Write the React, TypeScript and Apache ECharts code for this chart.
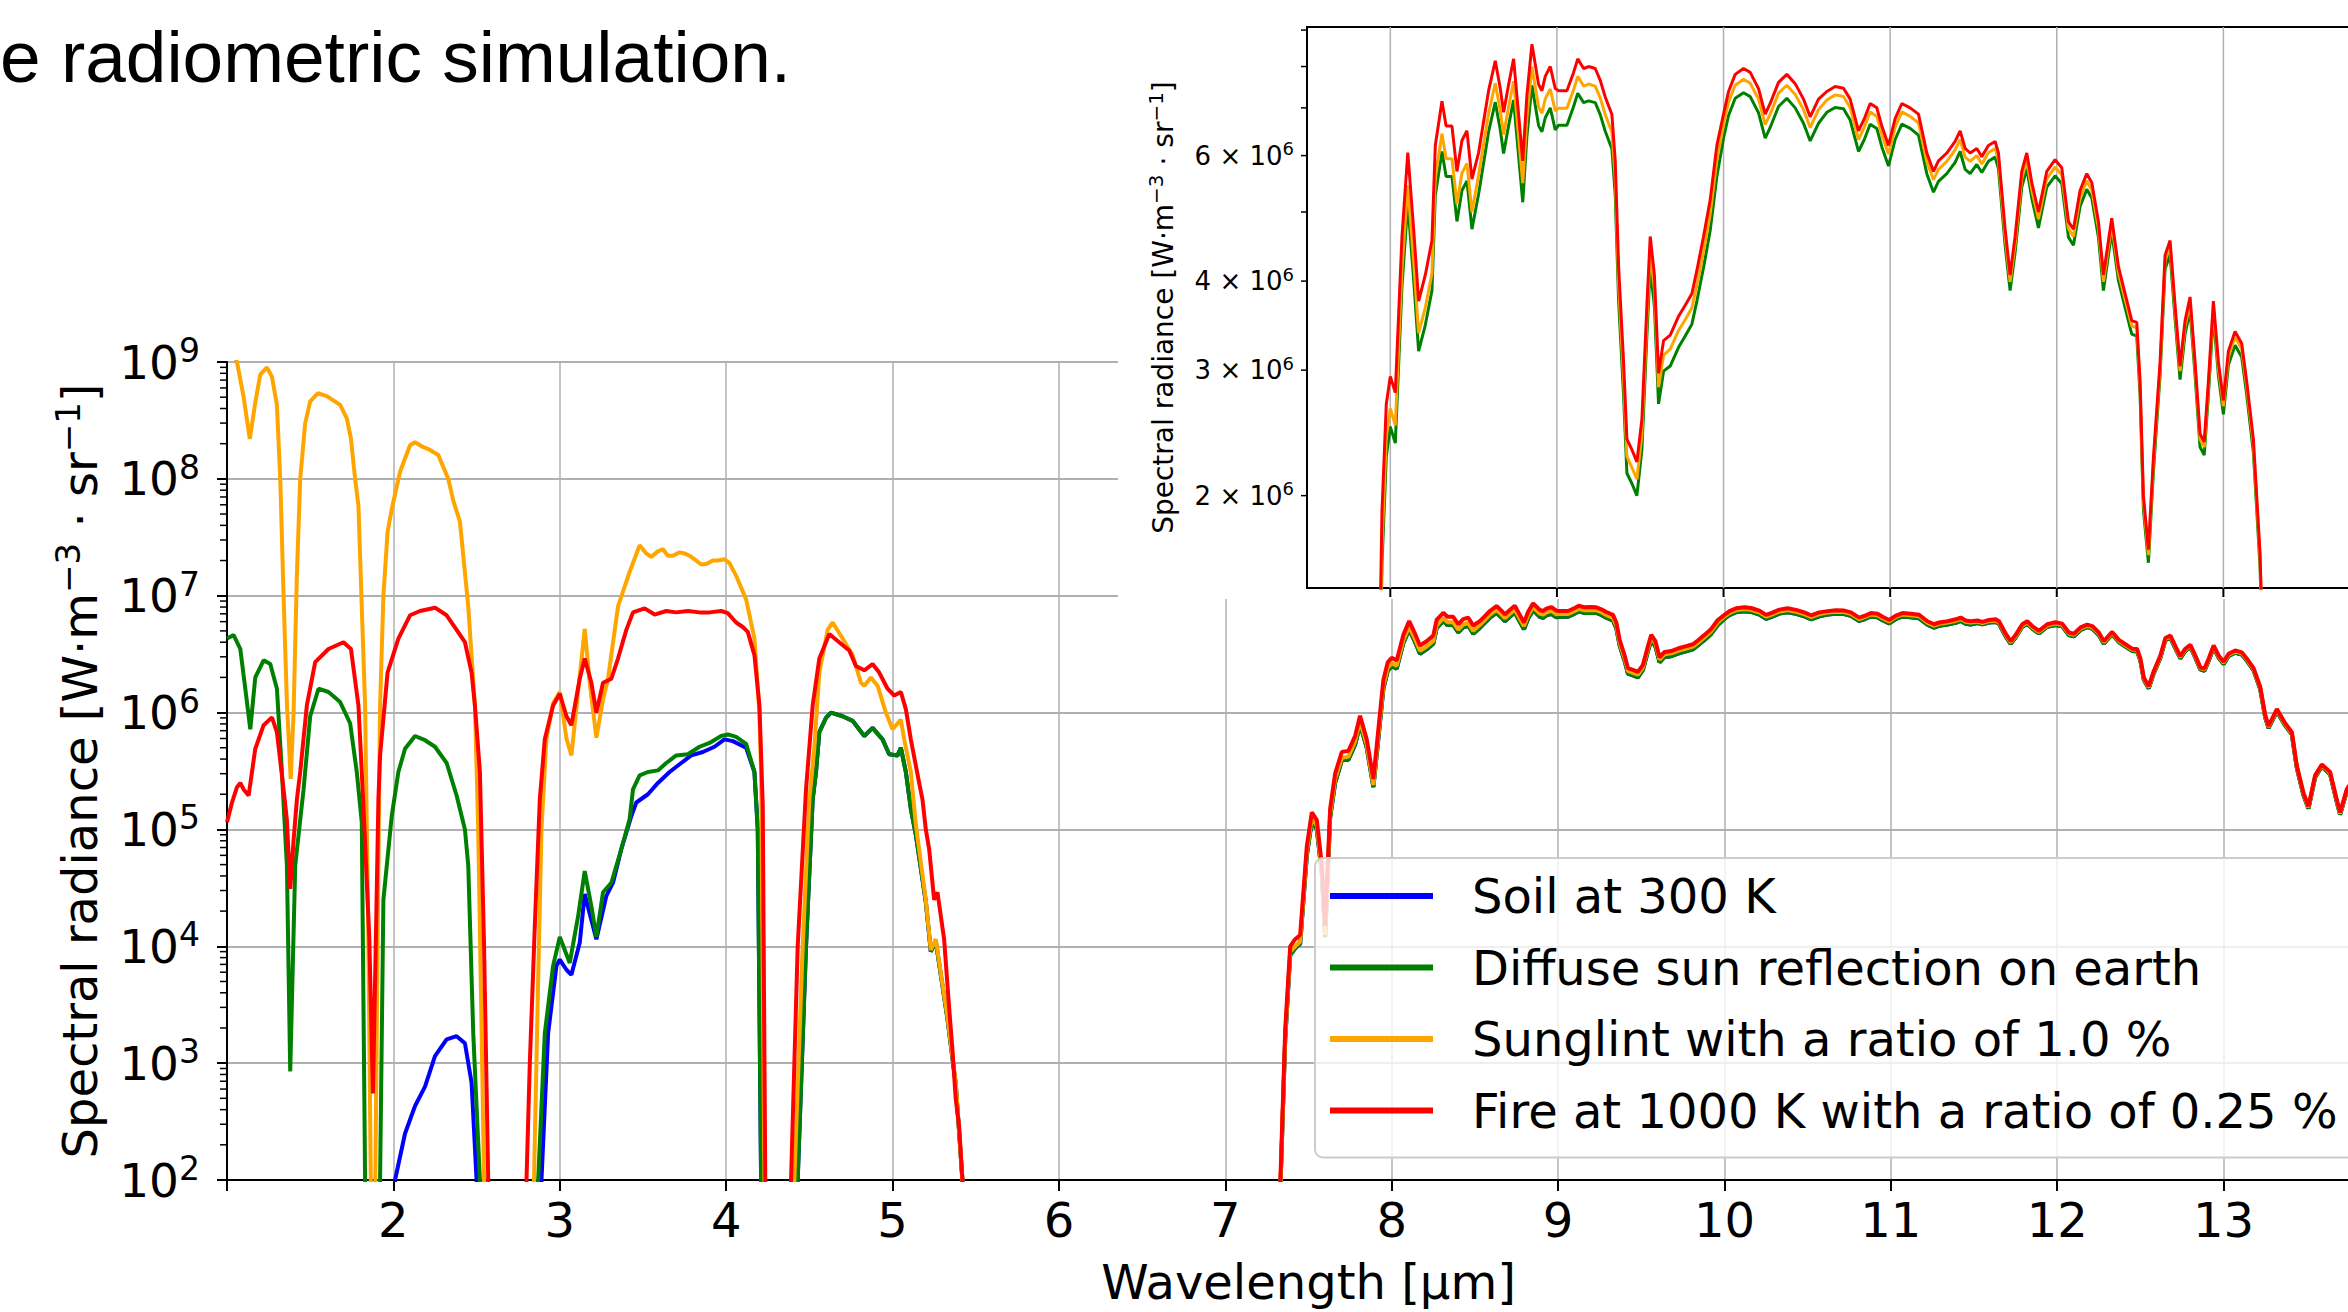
import React, { useEffect, useRef } from 'react';
import * as echarts from 'echarts';

const FONT = '"DejaVu Sans", "Noto Sans", sans-serif';

const seriesNames = [
  'Soil at 300 K',
  'Diffuse sun reflection on earth',
  'Sunglint with a ratio of 1.0 %',
  'Fire at 1000 K with a ratio of 0.25 %',
];
const seriesColors = ['#0000ff', '#008000', '#ffa500', '#ff0000'];

const titleText = 'e radiometric simulation.';
const xAxisTitle = 'Wavelength [µm]';

// main chart axis extents
const mainX = [1, 14];
const mainY = [1e2, 1e9];
// inset axis extents
const insetX = [7.5, 14];
const insetY = [1.484e6, 9.09e6];
const insetXTicks = [8, 9, 10, 11, 12, 13];
const insetYMinor = [2e6, 3e6, 4e6, 5e6, 6e6, 7e6, 8e6, 9e6];
const insetYLabelled = [2e6, 3e6, 4e6, 6e6];

// ---- Soil at 300 K (blue), visible parts at 2.0-2.5 and 2.9-4.2 µm
const soilNear = [
  [1.0, 1], [1.99, 1], [2.01, 100], [2.07, 250], [2.13, 430], [2.19, 630], [2.25, 1150], [2.32, 1600],
  [2.38, 1700], [2.43, 1480], [2.47, 680], [2.5, 100], [2.52, 1],
  [2.86, 1], [2.89, 100], [2.93, 1800], [2.98, 6800], [3.0, 7700], [3.04, 6300], [3.07, 5700],
  [3.12, 10700], [3.15, 28000], [3.18, 19000], [3.22, 11500], [3.28, 27000], [3.32, 35000],
  [3.37, 68000], [3.43, 130000], [3.46, 170000], [3.53, 200000], [3.59, 250000], [3.66, 310000],
  [3.73, 370000], [3.79, 430000], [3.86, 460000], [3.93, 510000], [3.99, 590000], [4.04, 570000],
  [4.12, 500000], [4.17, 310000], [4.19, 100000], [4.21, 100], [4.23, 1],
];

// ---- Diffuse sun reflection on earth (green)
const diffuseNear = [
  [1.0, 4.3e6], [1.04, 4.6e6], [1.08, 3.5e6], [1.11, 1.6e6], [1.14, 7.2e5], [1.17, 2.0e6], [1.22, 2.8e6],
  [1.26, 2.6e6], [1.3, 1.6e6], [1.33, 3.1e5], [1.36, 4.9e4], [1.38, 850], [1.41, 4.9e4], [1.46, 2.2e5],
  [1.5, 9.3e5], [1.55, 1.6e6], [1.61, 1.5e6], [1.68, 1.23e6], [1.74, 8.1e5], [1.78, 3.1e5], [1.81, 1.15e5],
  [1.83, 100], [1.85, 1], [1.9, 1], [1.92, 100], [1.94, 2.5e4], [1.99, 1.3e5], [2.03, 3.1e5], [2.07, 4.9e5],
  [2.13, 6.3e5], [2.19, 5.8e5], [2.25, 5.1e5], [2.32, 3.7e5], [2.38, 1.95e5], [2.43, 1.0e5], [2.45, 4.9e4],
  [2.48, 1800], [2.52, 100], [2.54, 1],
  [2.84, 1], [2.87, 100], [2.91, 1800], [2.96, 6800], [3.0, 12000], [3.06, 7200], [3.11, 18000],
  [3.15, 44000], [3.19, 22000], [3.22, 12000], [3.26, 29000], [3.31, 35000], [3.37, 68000], [3.42, 123000],
  [3.44, 220000], [3.48, 290000], [3.53, 310000], [3.59, 320000], [3.64, 370000], [3.7, 430000],
  [3.77, 440000], [3.84, 510000], [3.9, 550000], [3.97, 630000], [4.01, 650000], [4.06, 620000],
  [4.12, 540000], [4.17, 310000], [4.19, 100000], [4.21, 100], [4.23, 1],
];
const diffuseBand5um = [
  [4.4, 1], [4.43, 100], [4.48, 1e4], [4.52, 1.8e5], [4.54, 3.1e5], [4.56, 6.8e5], [4.6, 9e5], [4.63, 1.0e6],
  [4.7, 9.3e5], [4.76, 8.5e5], [4.83, 6.3e5], [4.88, 7.4e5], [4.94, 5.9e5], [4.98, 4.4e5], [5.03, 4.3e5],
  [5.05, 5.0e5], [5.08, 3.1e5], [5.11, 1.5e5], [5.14, 9e4], [5.2, 2.4e4], [5.23, 9e3], [5.26, 1.1e4],
  [5.29, 5.7e3], [5.33, 2.4e3], [5.38, 660], [5.42, 100], [5.44, 1], [7.3, 1],
];
const diffuseThermal = [
  [7.33, 75], [7.36, 1600], [7.39, 8400], [7.42, 9600], [7.45, 1.05e4], [7.49, 6.0e4], [7.52, 1.18e5],
  [7.55, 1.0e5], [7.58, 4.2e4], [7.6, 1.2e4], [7.63, 1.26e5], [7.66, 2.5e5], [7.7, 3.9e5], [7.74, 3.95e5],
  [7.78, 5.3e5], [7.81, 7.9e5], [7.85, 5.0e5], [7.89, 2.3e5], [7.92, 6.0e5], [7.95, 1.6e6], [7.976, 2.27e6],
  [8.0, 2.5e6], [8.03, 2.37e6], [8.07, 3.93e6], [8.105, 5.15e6], [8.14, 4.02e6], [8.17, 3.19e6],
  [8.21, 3.47e6], [8.25, 3.88e6], [8.27, 5.27e6], [8.31, 6.08e6], [8.335, 5.61e6], [8.37, 5.61e6],
  [8.4, 4.85e6], [8.43, 5.36e6], [8.46, 5.53e6], [8.49, 4.73e6], [8.53, 5.3e6], [8.56, 5.86e6],
  [8.59, 6.48e6], [8.63, 7.13e6], [8.66, 6.52e6], [8.68, 6.04e6], [8.71, 6.61e6], [8.74, 7.18e6],
  [8.77, 5.99e6], [8.795, 5.16e6], [8.82, 6.39e6], [8.85, 7.53e6], [8.89, 6.61e6], [8.91, 6.48e6],
  [8.93, 6.78e6], [8.96, 7.0e6], [8.99, 6.52e6], [9.01, 6.62e6], [9.06, 6.62e6], [9.1, 7.03e6],
  [9.125, 7.34e6], [9.16, 7.12e6], [9.19, 7.16e6], [9.23, 7.12e6], [9.26, 6.85e6], [9.29, 6.49e6],
  [9.33, 6.13e6], [9.35, 5.28e6], [9.37, 3.76e6], [9.4, 2.76e6], [9.42, 2.15e6], [9.45, 2.08e6],
  [9.48, 2.0e6], [9.51, 2.32e6], [9.54, 3.35e6], [9.56, 4.18e6], [9.585, 3.69e6], [9.61, 2.69e6],
  [9.64, 2.99e6], [9.68, 3.04e6], [9.73, 3.23e6], [9.77, 3.35e6], [9.81, 3.48e6], [9.84, 3.75e6],
  [9.88, 4.18e6], [9.92, 4.71e6], [9.96, 5.61e6], [10.0, 6.35e6], [10.03, 6.83e6], [10.07, 7.22e6],
  [10.12, 7.35e6], [10.16, 7.26e6], [10.21, 6.89e6], [10.25, 6.35e6], [10.28, 6.57e6], [10.33, 7.03e6],
  [10.38, 7.22e6], [10.43, 7.0e6], [10.48, 6.66e6], [10.52, 6.29e6], [10.57, 6.66e6], [10.62, 6.9e6],
  [10.67, 7.01e6], [10.72, 6.98e6], [10.76, 6.73e6], [10.81, 6.08e6], [10.845, 6.32e6], [10.88, 6.64e6],
  [10.92, 6.55e6], [10.95, 6.17e6], [10.99, 5.8e6], [11.03, 6.32e6], [11.07, 6.64e6], [11.12, 6.55e6],
  [11.17, 6.41e6], [11.22, 5.66e6], [11.26, 5.33e6], [11.29, 5.52e6], [11.34, 5.66e6], [11.39, 5.87e6],
  [11.42, 6.08e6], [11.45, 5.74e6], [11.48, 5.66e6], [11.52, 5.83e6], [11.55, 5.68e6], [11.59, 5.89e6],
  [11.63, 5.97e6], [11.65, 5.75e6], [11.69, 4.49e6], [11.72, 3.88e6], [11.75, 4.39e6], [11.79, 5.42e6],
  [11.82, 5.75e6], [11.85, 5.23e6], [11.89, 4.75e6], [11.94, 5.42e6], [11.99, 5.62e6], [12.03, 5.48e6],
  [12.07, 4.61e6], [12.1, 4.49e6], [12.14, 5.09e6], [12.18, 5.38e6], [12.21, 5.23e6], [12.25, 4.61e6],
  [12.28, 3.88e6], [12.33, 4.69e6], [12.37, 4.01e6], [12.41, 3.67e6], [12.45, 3.37e6], [12.48, 3.35e6],
  [12.5, 2.77e6], [12.52, 1.91e6], [12.55, 1.61e6], [12.58, 2.16e6], [12.62, 2.95e6], [12.65, 4.16e6],
  [12.68, 4.36e6], [12.71, 3.54e6], [12.74, 2.91e6], [12.77, 3.37e6], [12.8, 3.64e6], [12.83, 2.95e6],
  [12.86, 2.34e6], [12.885, 2.28e6], [12.91, 2.77e6], [12.94, 3.59e6], [12.97, 2.95e6], [13.0, 2.6e6],
  [13.03, 3.05e6], [13.07, 3.25e6], [13.11, 3.13e6], [13.14, 2.77e6], [13.18, 2.3e6], [13.22, 1.59e6],
  [13.25, 9.09e5], [13.27, 7.37e5], [13.32, 1.02e6], [13.37, 7.75e5], [13.41, 6.51e5], [13.44, 3.35e5],
  [13.48, 1.96e5], [13.51, 1.51e5], [13.55, 2.78e5], [13.59, 3.45e5], [13.64, 2.97e5], [13.68, 1.72e5],
  [13.7, 1.34e5], [13.74, 2.1e5], [13.8, 2.87e5], [13.87, 1.44e5], [13.95, 1.15e5], [14.0, 9.6e4],
];

// ---- Sunglint 1.0 % (orange)
const sunglintNear = [
  [1.0, 1.5e9], [1.03, 1.3e9], [1.06, 1.0e9], [1.1, 5.0e8], [1.137, 2.2e8], [1.17, 4.5e8], [1.2, 7.8e8],
  [1.24, 9.0e8], [1.27, 7.5e8], [1.3, 4.3e8], [1.32, 1.0e8], [1.34, 1.0e7], [1.36, 1.2e6], [1.383, 2.7e5],
  [1.4, 1.0e6], [1.42, 1.5e7], [1.44, 1.0e8], [1.47, 3.0e8], [1.5, 4.6e8], [1.546, 5.4e8], [1.6, 5.1e8],
  [1.68, 4.3e8], [1.72, 3.3e8], [1.745, 2.2e8], [1.77, 1.0e8], [1.79, 5.9e7], [1.81, 8e6], [1.83, 1.15e6],
  [1.85, 1e4], [1.865, 80], [1.89, 60], [1.905, 1e4], [1.92, 1.15e6], [1.94, 1.0e7], [1.965, 3.5e7],
  [1.99, 5.5e7], [2.04, 1.15e8], [2.1, 1.94e8], [2.13, 2.06e8], [2.17, 1.9e8], [2.21, 1.8e8], [2.27, 1.6e8],
  [2.33, 1.0e8], [2.36, 6.5e7], [2.4, 4.3e7], [2.45, 8.1e6], [2.49, 1.15e6], [2.51, 1e5], [2.545, 100],
  [2.56, 1],
  [2.81, 1], [2.845, 100], [2.87, 5e3], [2.89, 1e5], [2.92, 6e5], [2.96, 1.2e6], [3.0, 1.5e6], [3.04, 6e5],
  [3.07, 4.3e5], [3.11, 1.5e6], [3.15, 5.2e6], [3.18, 1.8e6], [3.22, 6.1e5], [3.26, 1.3e6], [3.29, 1.95e6],
  [3.35, 8.1e6], [3.42, 1.6e7], [3.48, 2.7e7], [3.52, 2.3e7], [3.55, 2.15e7], [3.59, 2.4e7], [3.62, 2.5e7],
  [3.65, 2.2e7], [3.68, 2.2e7], [3.72, 2.35e7], [3.75, 2.3e7], [3.78, 2.2e7], [3.81, 2.05e7], [3.85, 1.85e7],
  [3.88, 1.87e7], [3.92, 2.0e7], [3.95, 2.0e7], [3.99, 2.05e7], [4.02, 1.9e7], [4.06, 1.48e7], [4.12, 9.3e6],
  [4.17, 4.3e6], [4.2, 1.0e6], [4.21, 3.1e5], [4.23, 100], [4.25, 1],
  [4.38, 1], [4.41, 100], [4.46, 1e4], [4.5, 1.8e5], [4.53, 5e5], [4.56, 2.2e6], [4.61, 5.1e6], [4.64, 5.9e6],
  [4.7, 4.3e6], [4.76, 3.1e6], [4.81, 1.8e6], [4.83, 1.7e6], [4.87, 2.0e6], [4.91, 1.7e6], [4.96, 1.0e6],
  [5.0, 7.2e5], [5.05, 8.7e5], [5.07, 5.9e5], [5.11, 3.1e5], [5.14, 1.1e5], [5.2, 2.5e4], [5.23, 9.3e3],
  [5.26, 1.15e4], [5.29, 5.9e3], [5.33, 2.5e3], [5.38, 680], [5.42, 100], [5.44, 1], [7.3, 1],
];
const sunglintThermal = [
  [7.33, 80], [7.36, 1700], [7.39, 9000], [7.42, 1.0e4], [7.45, 1.1e4], [7.49, 6.5e4], [7.52, 1.26e5],
  [7.55, 1.08e5], [7.58, 4.4e4], [7.6, 1.25e4], [7.63, 1.35e5], [7.66, 2.7e5], [7.7, 4.1e5], [7.74, 4.2e5],
  [7.78, 5.7e5], [7.81, 8.5e5], [7.85, 5.3e5], [7.89, 2.4e5], [7.92, 6.5e5], [7.95, 1.7e6], [7.976, 2.42e6],
  [8.0, 2.65e6], [8.03, 2.51e6], [8.07, 4.16e6], [8.105, 5.45e6], [8.14, 4.26e6], [8.17, 3.38e6],
  [8.21, 3.67e6], [8.25, 4.1e6], [8.27, 5.58e6], [8.31, 6.44e6], [8.335, 5.94e6], [8.37, 5.94e6],
  [8.4, 5.13e6], [8.43, 5.67e6], [8.46, 5.85e6], [8.49, 5.0e6], [8.53, 5.64e6], [8.56, 6.23e6],
  [8.59, 6.88e6], [8.63, 7.58e6], [8.66, 6.93e6], [8.68, 6.42e6], [8.71, 7.02e6], [8.74, 7.63e6],
  [8.77, 6.37e6], [8.795, 5.49e6], [8.82, 6.79e6], [8.85, 8.0e6], [8.89, 7.02e6], [8.91, 6.88e6],
  [8.93, 7.21e6], [8.96, 7.44e6], [8.99, 6.93e6], [9.01, 6.99e6], [9.06, 6.99e6], [9.1, 7.42e6],
  [9.125, 7.75e6], [9.16, 7.51e6], [9.19, 7.56e6], [9.23, 7.51e6], [9.26, 7.23e6], [9.29, 6.85e6],
  [9.33, 6.47e6], [9.35, 5.58e6], [9.37, 3.97e6], [9.4, 2.91e6], [9.42, 2.27e6], [9.45, 2.19e6],
  [9.48, 2.11e6], [9.51, 2.44e6], [9.54, 3.53e6], [9.56, 4.41e6], [9.585, 3.9e6], [9.61, 2.84e6],
  [9.64, 3.15e6], [9.68, 3.21e6], [9.73, 3.41e6], [9.77, 3.53e6], [9.81, 3.67e6], [9.84, 3.95e6],
  [9.88, 4.41e6], [9.92, 4.97e6], [9.96, 5.92e6], [10.0, 6.63e6], [10.03, 7.13e6], [10.07, 7.53e6],
  [10.12, 7.68e6], [10.16, 7.58e6], [10.21, 7.2e6], [10.25, 6.63e6], [10.28, 6.86e6], [10.33, 7.34e6],
  [10.38, 7.53e6], [10.43, 7.31e6], [10.48, 6.96e6], [10.52, 6.57e6], [10.57, 6.96e6], [10.62, 7.18e6],
  [10.67, 7.3e6], [10.72, 7.26e6], [10.76, 7.01e6], [10.81, 6.32e6], [10.845, 6.58e6], [10.88, 6.91e6],
  [10.92, 6.81e6], [10.95, 6.42e6], [10.99, 6.03e6], [11.03, 6.58e6], [11.07, 6.91e6], [11.12, 6.81e6],
  [11.17, 6.67e6], [11.22, 5.89e6], [11.26, 5.55e6], [11.29, 5.74e6], [11.34, 5.89e6], [11.39, 6.11e6],
  [11.42, 6.32e6], [11.45, 5.97e6], [11.48, 5.89e6], [11.52, 6.0e6], [11.55, 5.84e6], [11.59, 6.06e6],
  [11.63, 6.14e6], [11.65, 5.91e6], [11.69, 4.62e6], [11.72, 3.99e6], [11.75, 4.51e6], [11.79, 5.57e6],
  [11.82, 5.91e6], [11.85, 5.37e6], [11.89, 4.89e6], [11.94, 5.57e6], [11.99, 5.78e6], [12.03, 5.64e6],
  [12.07, 4.74e6], [12.1, 4.62e6], [12.14, 5.24e6], [12.18, 5.53e6], [12.21, 5.37e6], [12.25, 4.74e6],
  [12.28, 3.99e6], [12.33, 4.81e6], [12.37, 4.11e6], [12.41, 3.77e6], [12.45, 3.46e6], [12.48, 3.44e6],
  [12.5, 2.84e6], [12.52, 1.96e6], [12.55, 1.65e6], [12.58, 2.22e6], [12.62, 3.02e6], [12.65, 4.27e6],
  [12.68, 4.48e6], [12.71, 3.63e6], [12.74, 2.99e6], [12.77, 3.46e6], [12.8, 3.73e6], [12.83, 3.02e6],
  [12.86, 2.4e6], [12.885, 2.34e6], [12.91, 2.84e6], [12.94, 3.68e6], [12.97, 3.02e6], [13.0, 2.67e6],
  [13.03, 3.13e6], [13.07, 3.34e6], [13.11, 3.21e6], [13.14, 2.84e6], [13.18, 2.36e6], [13.22, 1.63e6],
  [13.25, 9.33e5], [13.27, 7.56e5], [13.32, 1.05e6], [13.37, 7.95e5], [13.41, 6.68e5], [13.44, 3.44e5],
  [13.48, 2.01e5], [13.51, 1.55e5], [13.55, 2.85e5], [13.59, 3.54e5], [13.64, 3.04e5], [13.68, 1.77e5],
  [13.7, 1.37e5], [13.74, 2.16e5], [13.8, 2.95e5], [13.87, 1.47e5], [13.95, 1.18e5], [14.0, 9.8e4],
];

// ---- Fire 1000 K 0.25 % (red)
const fireNear = [
  [1.0, 1.15e5], [1.03, 1.7e5], [1.06, 2.3e5], [1.08, 2.5e5], [1.1, 2.2e5], [1.13, 1.95e5], [1.17, 4.9e5],
  [1.22, 7.8e5], [1.27, 9.1e5], [1.3, 6.8e5], [1.34, 2.2e5], [1.36, 1.2e5], [1.38, 3.1e4], [1.4, 8e4],
  [1.42, 1.8e5], [1.44, 3.1e5], [1.48, 1.15e6], [1.53, 2.7e6], [1.61, 3.5e6], [1.7, 4.0e6], [1.745, 3.5e6],
  [1.79, 1.15e6], [1.82, 1.6e5], [1.855, 1.2e4], [1.877, 550], [1.895, 1.2e4], [1.91, 1.8e5], [1.92, 4.3e5],
  [1.965, 2.2e6], [2.03, 4.3e6], [2.1, 6.8e6], [2.16, 7.4e6], [2.25, 7.9e6], [2.32, 6.8e6], [2.38, 5.1e6],
  [2.43, 4.0e6], [2.47, 2.2e6], [2.49, 1.15e6], [2.52, 3.1e5], [2.545, 1e4], [2.57, 100], [2.59, 1],
  [2.77, 1], [2.8, 100], [2.82, 1e3], [2.85, 1.5e4], [2.88, 1.8e5], [2.91, 5.9e5], [2.96, 1.15e6],
  [3.0, 1.45e6], [3.04, 9.3e5], [3.07, 7.8e5], [3.12, 1.95e6], [3.15, 2.9e6], [3.19, 1.8e6], [3.22, 1.0e6],
  [3.26, 1.8e6], [3.31, 1.95e6], [3.35, 2.9e6], [3.4, 5.1e6], [3.44, 7.2e6], [3.51, 7.8e6], [3.57, 6.9e6],
  [3.64, 7.4e6], [3.7, 7.2e6], [3.77, 7.4e6], [3.84, 7.2e6], [3.9, 7.2e6], [3.97, 7.4e6], [4.01, 7.1e6],
  [4.06, 5.9e6], [4.1, 5.4e6], [4.13, 4.9e6], [4.17, 3.1e6], [4.2, 1.15e6], [4.22, 1.6e5], [4.235, 100],
  [4.25, 1],
  [4.36, 1], [4.39, 100], [4.43, 1e4], [4.48, 2.2e5], [4.52, 1.15e6], [4.56, 2.9e6], [4.62, 4.7e6],
  [4.67, 4.1e6], [4.74, 3.4e6], [4.78, 2.5e6], [4.83, 2.3e6], [4.88, 2.6e6], [4.92, 2.2e6], [4.97, 1.6e6],
  [5.01, 1.4e6], [5.05, 1.5e6], [5.08, 1.07e6], [5.11, 5.9e5], [5.16, 2.5e5], [5.18, 1.8e5], [5.2, 1.0e5],
  [5.22, 6.8e4], [5.25, 2.5e4], [5.27, 2.9e4], [5.31, 1.15e4], [5.34, 3e3], [5.36, 1.3e3], [5.38, 490],
  [5.4, 290], [5.42, 100], [5.44, 1], [7.3, 1],
];
const fireThermal = [
  [7.33, 90], [7.36, 1950], [7.39, 1.0e4], [7.42, 1.15e4], [7.45, 1.25e4], [7.49, 7.2e4], [7.52, 1.4e5],
  [7.55, 1.2e5], [7.58, 5.0e4], [7.6, 1.5e4], [7.63, 1.5e5], [7.66, 3.0e5], [7.7, 4.6e5], [7.74, 4.7e5],
  [7.78, 6.3e5], [7.81, 9.4e5], [7.85, 5.9e5], [7.89, 2.7e5], [7.92, 7.2e5], [7.95, 1.9e6], [7.976, 2.69e6],
  [8.0, 2.94e6], [8.03, 2.79e6], [8.07, 4.62e6], [8.105, 6.06e6], [8.14, 4.73e6], [8.17, 3.75e6],
  [8.21, 4.08e6], [8.25, 4.56e6], [8.27, 6.2e6], [8.31, 7.15e6], [8.335, 6.6e6], [8.37, 6.6e6],
  [8.4, 5.7e6], [8.43, 6.3e6], [8.46, 6.5e6], [8.49, 5.56e6], [8.53, 6.06e6], [8.56, 6.7e6], [8.59, 7.4e6],
  [8.63, 8.15e6], [8.66, 7.45e6], [8.68, 6.9e6], [8.71, 7.55e6], [8.74, 8.2e6], [8.77, 6.85e6],
  [8.795, 5.9e6], [8.82, 7.3e6], [8.85, 8.6e6], [8.89, 7.55e6], [8.91, 7.4e6], [8.93, 7.75e6], [8.96, 8.0e6],
  [8.99, 7.45e6], [9.01, 7.4e6], [9.06, 7.4e6], [9.1, 7.85e6], [9.125, 8.2e6], [9.16, 7.95e6], [9.19, 8.0e6],
  [9.23, 7.95e6], [9.26, 7.65e6], [9.29, 7.25e6], [9.33, 6.85e6], [9.35, 5.9e6], [9.37, 4.2e6],
  [9.4, 3.08e6], [9.42, 2.4e6], [9.45, 2.32e6], [9.48, 2.23e6], [9.51, 2.56e6], [9.54, 3.7e6],
  [9.56, 4.62e6], [9.585, 4.08e6], [9.61, 2.97e6], [9.64, 3.3e6], [9.68, 3.36e6], [9.73, 3.57e6],
  [9.77, 3.7e6], [9.81, 3.84e6], [9.84, 4.14e6], [9.88, 4.62e6], [9.92, 5.2e6], [9.96, 6.2e6], [10.0, 6.86e6],
  [10.03, 7.38e6], [10.07, 7.8e6], [10.12, 7.95e6], [10.16, 7.85e6], [10.21, 7.45e6], [10.25, 6.86e6],
  [10.28, 7.1e6], [10.33, 7.6e6], [10.38, 7.8e6], [10.43, 7.57e6], [10.48, 7.2e6], [10.52, 6.8e6],
  [10.57, 7.2e6], [10.62, 7.38e6], [10.67, 7.5e6], [10.72, 7.46e6], [10.76, 7.2e6], [10.81, 6.5e6],
  [10.845, 6.76e6], [10.88, 7.1e6], [10.92, 7.0e6], [10.95, 6.6e6], [10.99, 6.2e6], [11.03, 6.76e6],
  [11.07, 7.1e6], [11.12, 7.0e6], [11.17, 6.86e6], [11.22, 6.05e6], [11.26, 5.7e6], [11.29, 5.9e6],
  [11.34, 6.05e6], [11.39, 6.28e6], [11.42, 6.5e6], [11.45, 6.14e6], [11.48, 6.05e6], [11.52, 6.14e6],
  [11.55, 5.98e6], [11.59, 6.2e6], [11.63, 6.28e6], [11.65, 6.05e6], [11.69, 4.73e6], [11.72, 4.08e6],
  [11.75, 4.62e6], [11.79, 5.7e6], [11.82, 6.05e6], [11.85, 5.5e6], [11.89, 5.0e6], [11.94, 5.7e6],
  [11.99, 5.92e6], [12.03, 5.77e6], [12.07, 4.85e6], [12.1, 4.73e6], [12.14, 5.36e6], [12.18, 5.66e6],
  [12.21, 5.5e6], [12.25, 4.85e6], [12.28, 4.08e6], [12.33, 4.9e6], [12.37, 4.19e6], [12.41, 3.84e6],
  [12.45, 3.52e6], [12.48, 3.5e6], [12.5, 2.89e6], [12.52, 2.0e6], [12.55, 1.68e6], [12.58, 2.26e6],
  [12.62, 3.08e6], [12.65, 4.35e6], [12.68, 4.56e6], [12.71, 3.7e6], [12.74, 3.04e6], [12.77, 3.52e6],
  [12.8, 3.8e6], [12.83, 3.08e6], [12.86, 2.44e6], [12.885, 2.38e6], [12.91, 2.89e6], [12.94, 3.75e6],
  [12.97, 3.08e6], [13.0, 2.72e6], [13.03, 3.19e6], [13.07, 3.4e6], [13.11, 3.27e6], [13.14, 2.89e6],
  [13.18, 2.4e6], [13.22, 1.66e6], [13.25, 9.5e5], [13.27, 7.7e5], [13.32, 1.07e6], [13.37, 8.1e5],
  [13.41, 6.8e5], [13.44, 3.5e5], [13.48, 2.05e5], [13.51, 1.58e5], [13.55, 2.9e5], [13.59, 3.6e5],
  [13.64, 3.1e5], [13.68, 1.8e5], [13.7, 1.4e5], [13.74, 2.2e5], [13.8, 3.0e5], [13.87, 1.5e5],
  [13.95, 1.2e5], [14.0, 1.0e5],
];

// Soil coincides with the diffuse curve where thermal emission dominates
const soilData = [...soilNear, ...diffuseBand5um, ...diffuseThermal];
const diffuseData = [...diffuseNear, ...diffuseBand5um, ...diffuseThermal];
const sunglintData = [...sunglintNear, ...sunglintThermal];
const fireData = [...fireNear, ...fireThermal];
const mainSeriesData = [soilData, diffuseData, sunglintData, fireData];

export default function App() {
  const ref = useRef<HTMLDivElement>(null);

  useEffect(() => {
    if (!ref.current) return;
    const chart = echarts.init(ref.current, null, { renderer: 'svg' });

    const mainTickRich = {
      b: { fontSize: 47, fontFamily: FONT, color: '#000', lineHeight: 56 },
      s: { fontSize: 33, fontFamily: FONT, color: '#000', lineHeight: 30, verticalAlign: 'top' },
    };
    const mainNameRich = {
      b: { fontSize: 48, fontFamily: FONT, color: '#000', lineHeight: 58 },
      s: { fontSize: 34, fontFamily: FONT, color: '#000', lineHeight: 30, verticalAlign: 'top' },
    };
    const insetTickRich = {
      b: { fontSize: 26, fontFamily: FONT, color: '#000', lineHeight: 32 },
      s: { fontSize: 18, fontFamily: FONT, color: '#000', lineHeight: 16, verticalAlign: 'top' },
    };
    const insetNameRich = {
      b: { fontSize: 28, fontFamily: FONT, color: '#000', lineHeight: 34 },
      s: { fontSize: 20, fontFamily: FONT, color: '#000', lineHeight: 17, verticalAlign: 'top' },
    };
    const unitName = '{b|Spectral radiance [W·m}{s|−3}{b| · sr}{s|−1}{b|]}';

    // log minor tick positions on the main y axis (axis decoration)
    const mainMinor: number[][] = [];
    for (let e = 2; e < 9; e++) {
      for (let k = 2; k <= 9; k++) mainMinor.push([mainX[0], k * Math.pow(10, e)]);
    }

    const mainLines = seriesNames.map((name, i) => ({
      type: 'line',
      name,
      xAxisIndex: 0,
      yAxisIndex: 0,
      data: mainSeriesData[i],
      showSymbol: false,
      symbol: 'none',
      color: seriesColors[i],
      lineStyle: { width: 4, color: seriesColors[i] },
      clip: true,
      silent: true,
      z: 2,
    }));

    const insetLines = [
      [diffuseThermal, 1],
      [sunglintThermal, 2],
      [fireThermal, 3],
    ].map(([d, i]: any) => ({
      type: 'line',
      name: 'inset-' + i,
      xAxisIndex: 1,
      yAxisIndex: 1,
      data: d,
      showSymbol: false,
      symbol: 'none',
      color: seriesColors[i],
      lineStyle: { width: 3, color: seriesColors[i] },
      clip: true,
      silent: true,
      z: 8,
    }));

    const option: any = {
      animation: false,
      backgroundColor: '#fff',
      grid: [
        {
          left: 227, top: 362, right: -42, bottom: 132,
          show: true, borderColor: '#000', borderWidth: 2, backgroundColor: 'transparent',
          containLabel: false, outerBoundsMode: 'none', z: 0,
        },
        {
          left: 1307, top: 27, right: -42, bottom: 724,
          show: true, borderColor: '#000', borderWidth: 2, backgroundColor: '#fff',
          containLabel: false, outerBoundsMode: 'none', z: 6,
        },
      ],
      xAxis: [
        {
          type: 'value', gridIndex: 0, min: mainX[0], max: mainX[1], interval: 1,
          axisLine: { show: true, onZero: false, lineStyle: { color: '#000', width: 2 } },
          axisTick: { show: true, length: 11, lineStyle: { color: '#000', width: 2 } },
          axisLabel: {
            fontSize: 48, fontFamily: FONT, color: '#000', margin: 16,
            formatter: (v: number) => (v < 1.5 || v > 13.5 ? '' : String(v)),
          },
          splitLine: { show: true, lineStyle: { color: '#b0b0b0', width: 1.5 } },
          name: xAxisTitle, nameLocation: 'middle', nameGap: 78,
          nameTextStyle: { fontSize: 48, fontFamily: FONT, color: '#000' },
        },
        {
          type: 'value', gridIndex: 1, min: insetX[0], max: insetX[1], show: false,
          splitLine: { show: false },
        },
      ],
      yAxis: [
        {
          type: 'log', logBase: 10, gridIndex: 0, min: mainY[0], max: mainY[1], splitNumber: 7,
          axisLine: { show: true, onZero: false, lineStyle: { color: '#000', width: 2 } },
          axisTick: { show: true, length: 10, lineStyle: { color: '#000', width: 2 } },
          axisLabel: {
            margin: 27,
            formatter: (v: number) => `{b|10}{s|${Math.round(Math.log10(v))}}`,
            rich: mainTickRich,
          },
          splitLine: { show: true, lineStyle: { color: '#b0b0b0', width: 2 } },
          name: unitName, nameLocation: 'middle', nameGap: 118, nameRotate: 90,
          nameTextStyle: { fontSize: 48, fontFamily: FONT, color: '#000', rich: mainNameRich },
        },
        {
          type: 'log', logBase: 10, gridIndex: 1, min: insetY[0], max: insetY[1],
          axisLine: { show: false }, axisTick: { show: false }, axisLabel: { show: false },
          splitLine: { show: false },
          name: unitName, nameLocation: 'middle', nameGap: 127, nameRotate: 90,
          nameTextStyle: { fontSize: 28, fontFamily: FONT, color: '#000', rich: insetNameRich },
          z: 9,
        },
      ],
      legend: {
        data: seriesNames,
        orient: 'vertical',
        left: 1315,
        top: 858,
        padding: [10, 60, 19, 15],
        itemWidth: 103,
        itemHeight: 6,
        itemGap: 15.5,
        icon: 'rect',
        selectedMode: false,
        textStyle: { fontSize: 48, fontFamily: FONT, color: '#000', lineHeight: 56, padding: [0, 0, 0, 34] },
        backgroundColor: 'rgba(255,255,255,0.8)',
        borderColor: '#cccccc',
        borderWidth: 2,
        borderRadius: 8,
        z: 4,
      },
      graphic: [
        {
          type: 'rect', z: 5, silent: true,
          shape: { x: 1118, y: 0, width: 1240, height: 599 },
          style: { fill: '#ffffff' },
        },
        {
          type: 'text', z: 10, x: 0, y: 56, silent: true,
          style: {
            text: titleText, font: '73px "Liberation Sans", Arial, sans-serif', fill: '#000',
            verticalAlign: 'middle', align: 'left',
          },
        },
      ],
      series: [
        ...mainLines,
        {
          type: 'custom', name: 'main-minor-ticks', xAxisIndex: 0, yAxisIndex: 0,
          data: mainMinor, clip: false, silent: true, z: 3,
          renderItem: (params: any, api: any) => {
            const p = api.coord([api.value(0), api.value(1)]);
            return {
              type: 'line',
              shape: { x1: p[0] - 7, y1: p[1], x2: p[0], y2: p[1] },
              style: { stroke: '#000', lineWidth: 1.5 },
            };
          },
        },
        {
          type: 'custom', name: 'inset-grid', xAxisIndex: 1, yAxisIndex: 1,
          data: insetXTicks.map((x) => [x, insetY[0]]),
          clip: false, silent: true, z: 7,
          renderItem: (params: any, api: any) => {
            const x = api.value(0);
            const top = api.coord([x, insetY[1]]);
            const bot = api.coord([x, insetY[0]]);
            return {
              type: 'group',
              children: [
                {
                  type: 'line',
                  shape: { x1: top[0], y1: top[1], x2: bot[0], y2: bot[1] },
                  style: { stroke: '#b0b0b0', lineWidth: 1.5 },
                },
                {
                  type: 'line',
                  shape: { x1: bot[0], y1: bot[1], x2: bot[0], y2: bot[1] + 9 },
                  style: { stroke: '#000', lineWidth: 2 },
                },
              ],
            };
          },
        },
        {
          type: 'custom', name: 'inset-yticks', xAxisIndex: 1, yAxisIndex: 1,
          data: insetYMinor.map((v) => [insetX[0], v, insetYLabelled.indexOf(v) >= 0 ? 1 : 0]),
          clip: false, silent: true, z: 9,
          renderItem: (params: any, api: any) => {
            const v = api.value(1);
            const p = api.coord([api.value(0), v]);
            const children: any[] = [
              {
                type: 'line',
                shape: { x1: p[0] - 6, y1: p[1], x2: p[0], y2: p[1] },
                style: { stroke: '#000', lineWidth: 1.5 },
              },
            ];
            if (api.value(2) === 1) {
              children.push({
                type: 'text',
                x: p[0] - 13,
                y: p[1],
                style: {
                  text: `{b|${Math.round(v / 1e6)} × 10}{s|6}`,
                  rich: insetTickRich,
                  align: 'right',
                  verticalAlign: 'middle',
                  fill: '#000',
                },
              });
            }
            return { type: 'group', children };
          },
        },
        ...insetLines,
      ],
    };

    chart.setOption(option);
    return () => chart.dispose();
  }, []);

  return (
    <div
      ref={ref}
      style={{ position: 'absolute', left: 0, top: 0, width: 2348, height: 1312, background: '#fff' }}
    />
  );
}
